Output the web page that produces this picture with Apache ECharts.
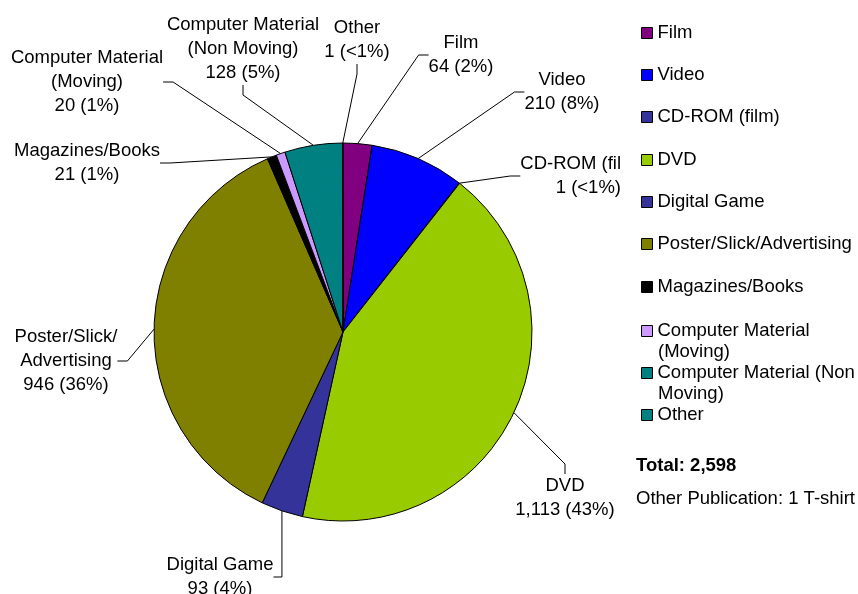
<!DOCTYPE html>
<html>
<head>
<meta charset="utf-8">
<script src="https://cdn.jsdelivr.net/npm/echarts@6/dist/echarts.min.js"></script>
<style>
  html, body { margin: 0; padding: 0; background: #fff; }
  #main { width: 858px; height: 594px; }
</style>
</head>
<body>
<div id="main"></div>
<script>
// 数据
const categories = [
  'Film', 'Video', 'CD-ROM (film)', 'DVD', 'Digital Game',
  'Poster/Slick/Advertising', 'Magazines/Books',
  'Computer Material (Moving)', 'Computer Material (Non Moving)', 'Other'
]
const values = [64, 210, 1, 1113, 93, 946, 21, 20, 128, 1]
const pctLabels = ['2%', '8%', '<1%', '43%', '4%', '36%', '1%', '1%', '5%', '<1%']
const sliceLabels = [
  'Film', 'Video', 'CD-ROM (fil', 'DVD', 'Digital Game',
  'Poster/Slick/\nAdvertising', 'Magazines/Books',
  'Computer Material\n(Moving)', 'Computer Material\n(Non Moving)', 'Other'
]
const legendLines = [
  'Film', 'Video', 'CD-ROM (film)', 'DVD', 'Digital Game',
  'Poster/Slick/Advertising', 'Magazines/Books',
  'Computer Material', 'Computer Material (Non', 'Other'
]
const legendSecondLines = ['', '', '', '', '', '', '', '(Moving)', 'Moving)', '']
const colors = ['#800080', '#0000FF', '#333399', '#99CC00', '#333399',
  '#808000', '#000000', '#CC99FF', '#008080', '#008080']
const totalText = 'Total: 2,598'
const noteText = 'Other Publication: 1 T-shirt'

// 标签位置（像素）
const labelPos = [
  [461, 55, 'center'], [562, 92, 'center'], [621, 176, 'right'], [565, 498, 'center'],
  [220, 577, 'center'], [66, 361, 'center'], [87, 163, 'center'], [87, 82, 'center'],
  [243, 49, 'center'], [357, 40, 'center']
]
const legendTops = [33, 75, 117, 160, 202, 244, 287, 331, 373, 415]

const FONT = 'Liberation Sans, Arial'
const FS = 18.5
const fmt = n => n.toLocaleString('en-US')

const data = categories.map((c, i) => ({
  name: c,
  value: values[i],
  itemStyle: { color: colors[i] },
  label: { formatter: sliceLabels[i] + '\n' + fmt(values[i]) + ' (' + pctLabels[i] + ')' }
}))

const legends = categories.map((c, i) => ({
  data: [c],
  orient: 'vertical',
  left: 641,
  top: legendTops[i] - 11,
  padding: 0,
  itemWidth: 11,
  itemHeight: 11,
  itemGap: 0,
  icon: 'rect',
  itemStyle: { borderColor: '#000', borderWidth: 1 },
  selectedMode: false,
  formatter: () => legendLines[i],
  textStyle: { fontFamily: FONT, fontSize: FS, color: '#000', lineHeight: 22 }
}))

const graphics = []
legendSecondLines.forEach((t, i) => {
  if (t) graphics.push({
    type: 'text', left: 658, top: legendTops[i] + 11,
    style: { text: t, font: FS + 'px ' + FONT, fill: '#000' }
  })
})
graphics.push({ type: 'text', left: 636, top: 456,
  style: { text: totalText, font: 'bold ' + FS + 'px ' + FONT, fill: '#000' } })
graphics.push({ type: 'text', left: 636, top: 489,
  style: { text: noteText, font: FS + 'px ' + FONT, fill: '#000' } })

const option = {
  animation: false,
  backgroundColor: '#fff',
  legend: legends,
  graphic: graphics,
  series: [{
    type: 'pie',
    center: [343, 332],
    radius: 189,
    startAngle: 90,
    clockwise: true,
    avoidLabelOverlap: false,
    data: data,
    itemStyle: { borderColor: '#000', borderWidth: 1 },
    label: {
      show: true,
      position: 'outside',
      fontFamily: FONT,
      fontSize: FS,
      lineHeight: 24,
      color: '#000',
      align: 'center'
    },
    labelLine: { show: true, lineStyle: { color: '#000', width: 1 }, length: 10, length2: 10 },
    labelLayout: function (params) {
      const p = labelPos[params.dataIndex]
      return { x: p[0], y: p[1], align: p[2], verticalAlign: 'middle' }
    },
    emphasis: { disabled: true }
  }]
}

const myChart = echarts.init(document.getElementById('main'))
myChart.setOption(option)
window.onresize = function () { myChart.resize() }
</script>
</body>
</html>
